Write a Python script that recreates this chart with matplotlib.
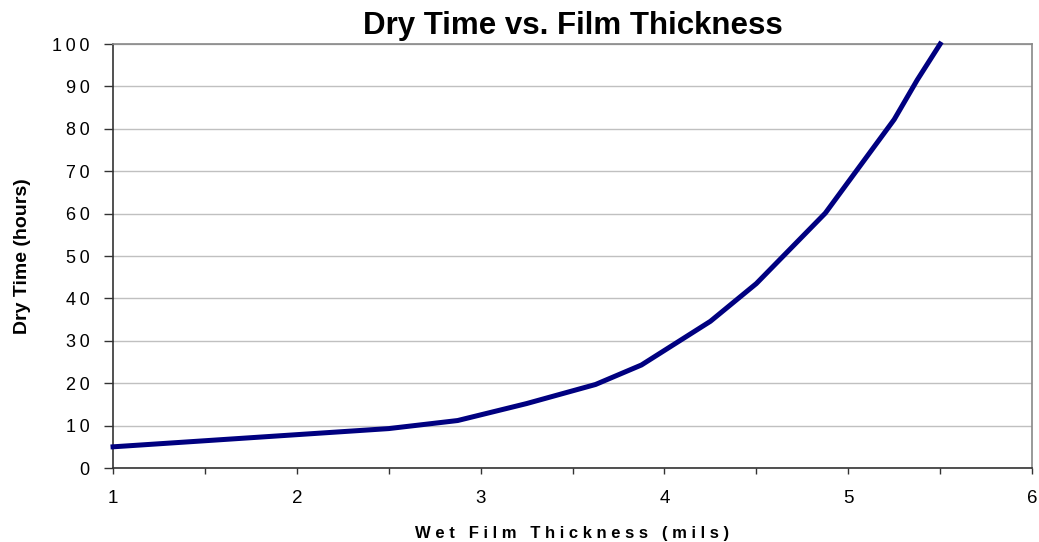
import numpy as np
import matplotlib
matplotlib.use("Agg")
import matplotlib.pyplot as plt
from matplotlib.ticker import MultipleLocator, FuncFormatter

plt.rcParams['font.family'] = ['Liberation Sans', 'DejaVu Sans']

# wet film thickness (mils) and dry time (hours)
thickness = [1.0, 2.5, 2.875, 3.25, 3.625, 3.875, 4.25, 4.5, 4.875, 5.25, 5.375, 5.5]
dry_time = [5.0, 9.3, 11.2, 15.2, 19.7, 24.3, 34.6, 43.5, 60.1, 82.2, 91.5, 100.0]

x_ticks = [1, 2, 3, 4, 5, 6]
y_ticks = list(range(0, 101, 10))

fig = plt.figure(figsize=(10.39, 5.42), dpi=100)
ax = fig.add_axes([0.1088, 0.1365, 0.8845, 0.7823])

ax.plot(thickness, dry_time, color='#000080', lw=3.6, clip_on=False, zorder=3)

ax.set_xlim(1, 6)
ax.set_ylim(0, 100)
ax.set_xticks(x_ticks)
ax.set_yticks(y_ticks)
ax.xaxis.set_minor_locator(MultipleLocator(0.5))
# spaced digits like the original
ax.yaxis.set_major_formatter(FuncFormatter(lambda v, p: '\u2009'.join(str(int(v)))))
ax.grid(axis='y', color='#c0c0c0', lw=1)
ax.set_axisbelow(True)

for s in ['left', 'bottom']:
    ax.spines[s].set_color('#333333')
    ax.spines[s].set_linewidth(1.2)
for s in ['right', 'top']:
    ax.spines[s].set_color('#888888')
    ax.spines[s].set_linewidth(1.2)

ax.tick_params(axis='y', direction='out', length=6.5, width=1, color='#333333', labelsize=13, pad=10.5)
ax.tick_params(axis='x', which='both', direction='out', length=4.5, width=1, color='#333333', labelsize=13.5, pad=11)

ax.set_title('Dry Time vs. Film Thickness', fontsize=22.5, fontweight='bold', pad=7)
ax.set_ylabel('Dry Time (hours)', fontsize=14, fontweight='bold', labelpad=15)
xlab = '   '.join(' '.join(w) for w in ['Wet', 'Film', 'Thickness', '(mils)'])
ax.set_xlabel(xlab, fontsize=12, fontweight='bold', labelpad=14)

fig.savefig('out.png', dpi=100)
